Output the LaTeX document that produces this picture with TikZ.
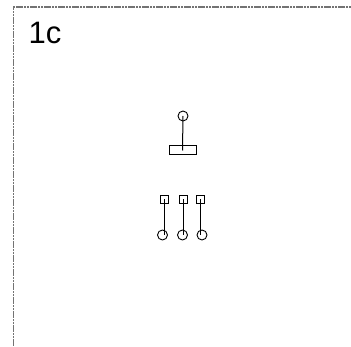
\documentclass[tikz,border=0pt]{standalone}
\usepackage{fontspec}
\setmainfont{Liberation Sans}
\tikzset{
  pin/.style={draw=black,line width=1pt},
  ball/.style={circle,draw=black,line width=0.9pt,minimum size=10pt,inner sep=0pt},
  sq/.style={rectangle,draw=black,line width=0.9pt,minimum size=8pt,inner sep=0pt,fill=white},
  bar/.style={rectangle,draw=black,line width=1pt,minimum width=27pt,minimum height=9pt,inner sep=0pt},
  frame/.style={draw=black!55,line width=1.3pt,dash pattern=on 2.2pt off 0.6pt}
}
\begin{document}
\begin{tikzpicture}[x=1pt,y=-1pt]
\useasboundingbox (0,0) rectangle (351,347);
\coordinate (tr) at (351,7);
\coordinate (tl) at (13.5,7);
\coordinate (bl) at (13.5,347);
\draw[frame] (tr) -- (tl) -- (bl);
\node[anchor=base west,font=\fontsize{31}{31}\selectfont,inner sep=0pt] (lbl) at (28.5,44) {1c};
\node[bar] (b) at (182.5,150.5) {};
\node[ball] (c0) at (183,116) {};
\draw[pin] (c0.center) -- (b.center);
\node[sq] (s1) at (164.5,199.5) {};
\node[sq] (s2) at (183,199.5) {};
\node[sq] (s3) at (200.5,199.5) {};
\node[ball] (c1) at (162.5,235) {};
\node[ball] (c2) at (182.5,235) {};
\node[ball] (c3) at (202,235) {};
\draw[pin] (s1.center) -- (s1.center |- c1.center);
\draw[pin] (s2.center) -- (s2.center |- c2.center);
\draw[pin] (s3.center) -- (s3.center |- c3.center);
\end{tikzpicture}
\end{document}
